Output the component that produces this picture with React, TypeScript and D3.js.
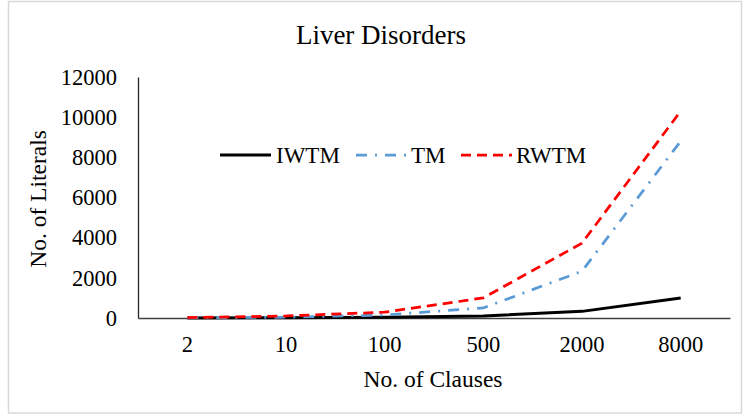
import { useRef, useEffect } from 'react';
import * as d3 from 'd3';

const clauses = ['2', '10', '100', '500', '2000', '8000'];
const iwtm = [2, 10, 40, 100, 330, 1000];
const tm = [10, 40, 150, 500, 2330, 8800];
const rwtm = [20, 100, 290, 1000, 3730, 10300];
const yTicks = [0, 2000, 4000, 6000, 8000, 10000, 12000];

const seriesNames = ['IWTM', 'TM', 'RWTM'];
const seriesValues = [iwtm, tm, rwtm];

const styles = [
  { color: '#000000', width: 3, dash: null as string | null },
  { color: '#5B9BD5', width: 2.75, dash: '11 8 2 8' },
  { color: '#FF0000', width: 2.75, dash: '10 6' },
];

const W = 743;
const H = 415;
const FONT = '"Liberation Serif", "Times New Roman", serif';

const App = () => {
  const svgRef = useRef<SVGSVGElement | null>(null);

  useEffect(() => {
    const svg = d3.select(svgRef.current);
    svg.selectAll('*').remove();

    const margin = { top: 77, right: 13, bottom: 97, left: 138 };

    // outer frame
    svg.append('rect')
      .attr('x', 8.5)
      .attr('y', 1.5)
      .attr('width', 733)
      .attr('height', 411.5)
      .attr('fill', '#fff')
      .attr('stroke', '#d9d9d9')
      .attr('stroke-width', 1.5);

    const x = d3.scaleBand<string>()
      .domain(clauses)
      .range([margin.left, W - margin.right]);

    const y = d3.scaleLinear()
      .domain([0, 12000])
      .range([H - margin.bottom, margin.top]);

    // title
    svg.append('text')
      .attr('x', 381)
      .attr('y', 44)
      .attr('text-anchor', 'middle')
      .attr('font-family', FONT)
      .attr('font-size', 27)
      .text('Liver Disorders');

    // y axis
    const yAxis = svg.append('g')
      .attr('transform', `translate(${margin.left},0)`)
      .call(d3.axisLeft(y).tickValues(yTicks).tickSize(0).tickPadding(21).tickFormat(d3.format('d')));
    yAxis.attr('font-family', FONT).attr('font-size', 22.5);
    yAxis.select('.domain').attr('stroke', '#262626').attr('stroke-width', 1.3);
    yAxis.selectAll('text').attr('fill', '#000');

    // x axis
    const xAxis = svg.append('g')
      .attr('transform', `translate(0,${H - margin.bottom})`)
      .call(d3.axisBottom(x).tickSize(0).tickPadding(18));
    xAxis.attr('font-family', FONT).attr('font-size', 22.5);
    xAxis.select('.domain').attr('stroke', '#404040').attr('stroke-width', 1.5);
    xAxis.selectAll('text').attr('fill', '#000');

    // axis titles
    svg.append('text')
      .attr('x', 433)
      .attr('y', 387)
      .attr('text-anchor', 'middle')
      .attr('font-family', FONT)
      .attr('font-size', 23.5)
      .text('No. of Clauses');

    svg.append('text')
      .attr('transform', 'rotate(-90)')
      .attr('x', -199)
      .attr('y', 46)
      .attr('text-anchor', 'middle')
      .attr('font-family', FONT)
      .attr('font-size', 23.5)
      .text('No. of Literals');

    const line = d3.line<number>()
      .x((_, i) => (x(clauses[i]) as number) + x.bandwidth() / 2)
      .y(d => y(d));

    seriesValues.forEach((vals, i) => {
      const st = styles[i];
      const p = svg.append('path')
        .datum(vals)
        .attr('fill', 'none')
        .attr('stroke', st.color)
        .attr('stroke-width', st.width)
        .attr('stroke-linejoin', 'round')
        .attr('d', line);
      if (st.dash) p.attr('stroke-dasharray', st.dash);
    });

    // legend
    const legendItems = [
      { lx: 220, tx: 276 },
      { lx: 356, tx: 411 },
      { lx: 461, tx: 516 },
    ];
    seriesNames.forEach((name, i) => {
      const st = styles[i];
      const it = legendItems[i];
      const l = svg.append('line')
        .attr('x1', it.lx)
        .attr('x2', it.lx + 51)
        .attr('y1', 155)
        .attr('y2', 155)
        .attr('stroke', st.color)
        .attr('stroke-width', st.width);
      if (st.dash) l.attr('stroke-dasharray', st.dash);
      svg.append('text')
        .attr('x', it.tx)
        .attr('y', 163)
        .attr('font-family', FONT)
        .attr('font-size', 23)
        .text(name);
    });
  }, []);

  return (
    <svg
      ref={svgRef}
      width={W}
      height={H}
      style={{ position: 'absolute', left: 0, top: 0 }}
    ></svg>
  );
};

export default App;
